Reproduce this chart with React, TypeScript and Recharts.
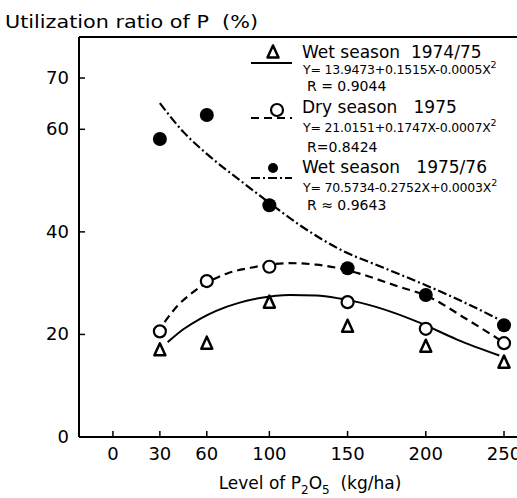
import { ComposedChart, Line, Scatter, XAxis, YAxis, ReferenceLine } from 'recharts';

const W = 517;
const H = 498;
const FONT = '"DejaVu Sans", sans-serif';

const xTicks = [0, 30, 60, 100, 150, 200, 250];
const yTicks = [0, 20, 40, 60, 70];

// P2O5 levels (kg/ha) and measured utilization ratios (%)
const levels = [30, 60, 100, 150, 200, 250];
const wet7475 = [17.0, 18.3, 26.3, 21.6, 17.7, 14.6];
const dry75 = [20.6, 30.4, 33.2, 26.3, 21.1, 18.3];
const wet7576 = [58.1, 62.8, 45.2, 32.9, 27.7, 21.8];

// regression curves, sampled along the drawn lines
const wet7475FitX = [35, 45, 56, 66, 81, 94, 113, 130, 145, 158, 177, 196, 220, 247];
const wet7475FitY = [18.5, 21.0, 23.1, 24.6, 26.2, 27.1, 27.7, 27.6, 27.0, 26.2, 24.5, 22.3, 19.0, 15.9];
const dry75FitX = [33, 41, 51, 73, 88, 113, 130, 143, 156, 183, 200, 226, 247];
const dry75FitY = [22.4, 25.5, 28.2, 31.9, 33.0, 33.9, 33.6, 33.0, 32.0, 29.3, 27.6, 23.0, 19.0];
const wet7576FitX = [30, 45, 60, 81, 102, 120, 145, 173, 200, 225, 247];
const wet7576FitY = [65.1, 59.5, 55.2, 50.1, 45.2, 41.2, 36.6, 33.0, 29.6, 26.2, 22.9];

// legend text
const seriesNames = ['Wet season  1974/75', 'Dry season   1975', 'Wet season   1975/76'];
const equations = ['Y= 13.9473+0.1515X-0.0005X', 'Y= 21.0151+0.1747X-0.0007X', 'Y= 70.5734-0.2752X+0.0003X'];
const rValues = ['R = 0.9044', 'R=0.8424', 'R \u2248 0.9643'];

const toPoints = (xs: number[], ys: number[]) => xs.map((x, i) => ({ x, y: ys[i] }));

const wetA = toPoints(levels, wet7475);
const dryA = toPoints(levels, dry75);
const wetB = toPoints(levels, wet7576);
const wetAFit = toPoints(wet7475FitX, wet7475FitY);
const dryAFit = toPoints(dry75FitX, dry75FitY);
const wetBFit = toPoints(wet7576FitX, wet7576FitY);

const DASH = '8 5';
const DASHDOT = '9 3 2 3';

const Triangle = ({ cx, cy }: any) => (
  <path
    d={`M${cx},${cy - 6.5} L${cx + 5.5},${cy + 5.5} L${cx - 5.5},${cy + 5.5} Z`}
    fill="#fff"
    stroke="#000"
    strokeWidth={2.5}
    strokeLinejoin="round"
  />
);
const OpenDot = ({ cx, cy }: any) => <circle cx={cx} cy={cy} r={6} fill="#fff" stroke="#000" strokeWidth={2.2} />;
const FilledDot = ({ cx, cy }: any) => <circle cx={cx} cy={cy} r={7} fill="#000" />;

const YTick = ({ x, y, payload }: any) => (
  <g>
    <line x1={x + 10} x2={x + 16} y1={y} y2={y} stroke="#000" strokeWidth={1.5} />
    <text x={x} y={y + 6} textAnchor="end" fontSize={18} fontFamily={FONT} fill="#000">
      {payload.value}
    </text>
  </g>
);

const XTick = ({ x, y, payload }: any) => (
  <g>
    <line x1={x} x2={x} y1={y - 10} y2={y - 16} stroke="#000" strokeWidth={1.5} />
    <text x={x} y={y + 13} textAnchor="middle" fontSize={18} fontFamily={FONT} fill="#000">
      {payload.value}
    </text>
  </g>
);

const legendRows = [
  { top: 52, sym: 'tri', dash: undefined },
  { top: 107, sym: 'open', dash: DASH },
  { top: 167, sym: 'filled', dash: DASHDOT },
];
const eqGap = [17, 20, 20];
const rGap = [34, 40, 38];

const Overlay = () => (
  <svg width={W} height={H} style={{ position: 'absolute', left: 0, top: 0, pointerEvents: 'none' }}>
    <text
      x={5}
      y={28}
      fontSize={18}
      fontFamily={FONT}
      textLength={253}
      lengthAdjust="spacingAndGlyphs"
      fill="#000"
      style={{ whiteSpace: 'pre' }}
    >
      Utilization ratio of P  (%)
    </text>
    <text x={310} y={489} textAnchor="middle" fontSize={17} fontFamily={FONT} fill="#000" style={{ whiteSpace: 'pre' }}>
      Level of P<tspan fontSize={12} dy={5}>2</tspan>
      <tspan dy={-5}>O</tspan>
      <tspan fontSize={12} dy={5}>5</tspan>
      <tspan dy={-5}>  (kg/ha)</tspan>
    </text>
    {legendRows.map((row, i) => (
      <g key={i} fontFamily={FONT} fill="#000">
        {row.sym === 'tri' && <Triangle cx={273} cy={row.top} />}
        {row.sym === 'open' && <OpenDot cx={277} cy={row.top + 3} />}
        {row.sym === 'filled' && <circle cx={273} cy={row.top + 1} r={5} fill="#000" />}
        <line
          x1={251}
          x2={292}
          y1={row.top + 11}
          y2={row.top + 11}
          stroke="#000"
          strokeWidth={2}
          strokeDasharray={row.dash}
        />
        <text x={302} y={row.top + 6} fontSize={17} style={{ whiteSpace: 'pre' }}>
          {seriesNames[i]}
        </text>
        <text x={303} y={row.top + eqGap[i] + 5} fontSize={12.5} letterSpacing={-0.2} style={{ whiteSpace: 'pre' }}>
          {equations[i]}
          <tspan fontSize={9.5} dy={-6}>2</tspan>
        </text>
        <text x={307} y={row.top + rGap[i] + 5} fontSize={14} style={{ whiteSpace: 'pre' }}>
          {rValues[i]}
        </text>
      </g>
    ))}
  </svg>
);

export default function App() {
  return (
    <div style={{ position: 'absolute', left: 0, top: 0, width: W, height: H, background: '#fff' }}>
      <ComposedChart width={W} height={H} margin={{ top: 37, right: 0, bottom: 0, left: 0 }}>
        <XAxis
          type="number"
          dataKey="x"
          domain={[-21.7, 258.3]}
          ticks={xTicks}
          interval={0}
          allowDataOverflow
          height={61}
          tickSize={0}
          tickMargin={10}
          tick={<XTick />}
          axisLine={{ stroke: '#000', strokeWidth: 2 }}
        />
        <YAxis
          type="number"
          dataKey="y"
          domain={[0, 78]}
          ticks={yTicks}
          interval={0}
          allowDataOverflow
          width={79}
          tickSize={0}
          tickMargin={10}
          tick={<YTick />}
          axisLine={{ stroke: '#000', strokeWidth: 2 }}
        />
        <ReferenceLine y={78} stroke="#000" strokeWidth={2} />
        <Line data={wetAFit} dataKey="y" type="monotone" stroke="#000" strokeWidth={2} dot={false} isAnimationActive={false} />
        <Line data={dryAFit} dataKey="y" type="monotone" stroke="#000" strokeWidth={2.2} strokeDasharray={DASH} dot={false} isAnimationActive={false} />
        <Line data={wetBFit} dataKey="y" type="monotone" stroke="#000" strokeWidth={2.2} strokeDasharray={DASHDOT} dot={false} isAnimationActive={false} />
        <Scatter data={wetA} dataKey="y" shape={<Triangle />} isAnimationActive={false} />
        <Scatter data={dryA} dataKey="y" shape={<OpenDot />} isAnimationActive={false} />
        <Scatter data={wetB} dataKey="y" shape={<FilledDot />} isAnimationActive={false} />
      </ComposedChart>
      <Overlay />
    </div>
  );
}
